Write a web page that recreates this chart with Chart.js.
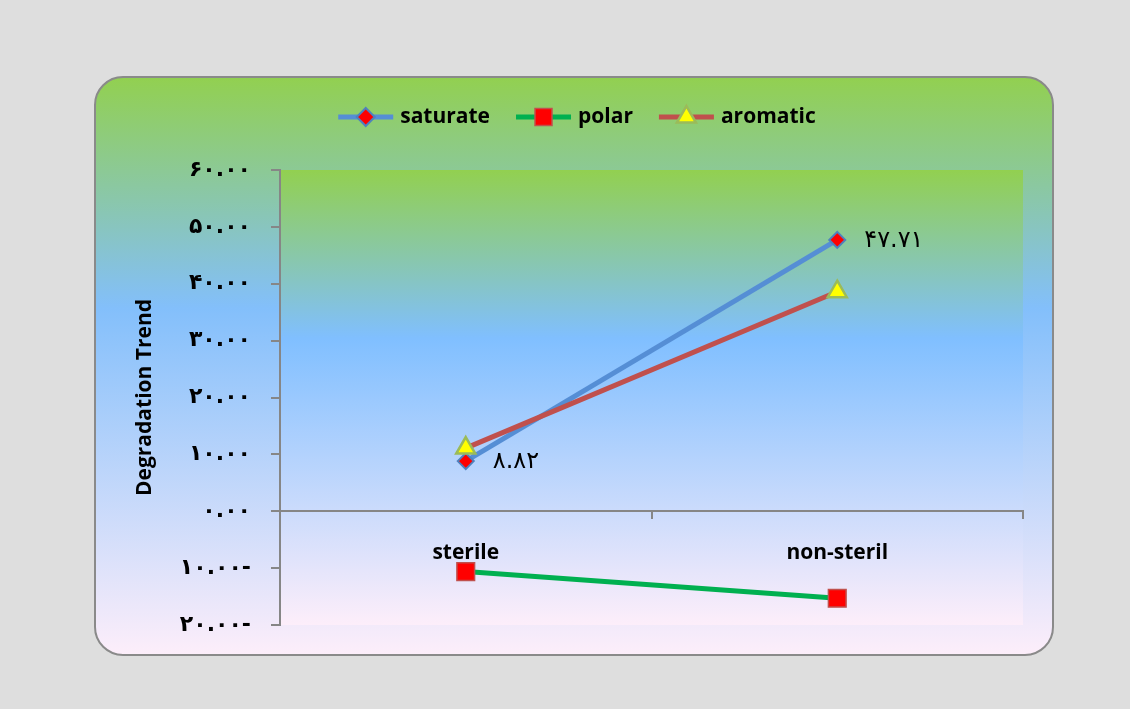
<!DOCTYPE html>
<html>
<head>
<meta charset="utf-8">
<script src="https://cdn.jsdelivr.net/npm/chart.js@4.4.1/dist/chart.umd.min.js"></script>
<style>
html,body{margin:0;padding:0;background:#dedede;}
#wrap{width:1130px;height:709px;position:relative;}
</style>
</head>
<body>
<div id="wrap"><canvas id="c" width="1130" height="709"></canvas></div>
<script>
const categories = ["sterile", "non-steril"];
const saturate = [8.82, 47.71];
const polar = [-10.6, -15.3];
const aromatic = [11.1, 38.6];
const seriesNames = ["saturate", "polar", "aromatic"];
const yTicks = { min: -20, max: 60, step: 10 };
const axisTitle = "Degradation Trend";

const FA = "۰۱۲۳۴۵۶۷۸۹";
function toFa(v) {
  const neg = v < 0;
  const s = Math.abs(v).toFixed(2).replace(/[0-9]/g, d => FA[+d]);
  return "\u200E" + s + (neg ? "-" : "");
}

const bgPlugin = {
  id: "bg",
  beforeDraw(chart) {
    const ctx = chart.ctx;
    ctx.save();
    ctx.fillStyle = "#dedede";
    ctx.fillRect(0, 0, chart.width, chart.height);
    const x0 = 95, y0 = 77, x1 = 1053, y1 = 655, r = 28;
    const g = ctx.createLinearGradient(0, y0, 0, y1);
    g.addColorStop(0, "#92d050");
    g.addColorStop(0.4, "#83bffb");
    g.addColorStop(1, "#fdeefa");
    ctx.beginPath();
    ctx.moveTo(x0 + r, y0);
    ctx.lineTo(x1 - r, y0);
    ctx.arcTo(x1, y0, x1, y0 + r, r);
    ctx.lineTo(x1, y1 - r);
    ctx.arcTo(x1, y1, x1 - r, y1, r);
    ctx.lineTo(x0 + r, y1);
    ctx.arcTo(x0, y1, x0, y1 - r, r);
    ctx.lineTo(x0, y0 + r);
    ctx.arcTo(x0, y0, x0 + r, y0, r);
    ctx.closePath();
    ctx.fillStyle = g;
    ctx.fill();
    ctx.lineWidth = 2;
    ctx.strokeStyle = "#8a8a8a";
    ctx.stroke();
    const a = chart.chartArea;
    const g2 = ctx.createLinearGradient(0, a.top, 0, a.bottom);
    g2.addColorStop(0, "#92d050");
    g2.addColorStop(0.37, "#80bfff");
    g2.addColorStop(1, "#fdeefa");
    ctx.fillStyle = g2;
    ctx.fillRect(a.left, a.top, a.right - a.left, a.bottom - a.top);
    ctx.restore();
  }
};

const labelPlugin = {
  id: "labels",
  afterDatasetsDraw(chart) {
    const ctx = chart.ctx;
    ctx.save();
    const meta = chart.getDatasetMeta(0);
    ctx.font = "24px 'DejaVu Sans'";
    ctx.fillStyle = "#000";
    ctx.textAlign = "left";
    ctx.textBaseline = "middle";
    meta.data.forEach((p, i) => {
      ctx.fillText(toFa(saturate[i]), p.x + 27, p.y + 1);
    });
    ctx.restore();
  }
};

const legendPlugin = {
  id: "customLegend",
  afterDraw(chart) {
    const ctx = chart.ctx;
    ctx.save();
    ctx.font = "bold 21px 'Open Sans'";
    ctx.textBaseline = "middle";
    const lineW = 55, gap = 7, itemGap = 26, y = 117;
    const ds = chart.data.datasets;
    let total = 0;
    const widths = ds.map(d => ctx.measureText(d.label).width);
    widths.forEach((w, i) => { total += lineW + gap + w + (i < ds.length - 1 ? itemGap : 0); });
    let x = 577 - total / 2;
    ds.forEach((d, i) => {
      ctx.strokeStyle = d.borderColor;
      ctx.lineWidth = d.borderWidth;
      ctx.beginPath();
      ctx.moveTo(x, y); ctx.lineTo(x + lineW, y); ctx.stroke();
      ctx.fillStyle = d.pointBackgroundColor;
      ctx.strokeStyle = d.pointBorderColor;
      ctx.lineWidth = d.pointBorderWidth;
      Chart.helpers.drawPoint(ctx, { pointStyle: d.pointStyle, rotation: 0, radius: d.legendRadius, borderWidth: d.pointBorderWidth }, x + lineW / 2, y);
      ctx.fillStyle = "#000";
      ctx.textAlign = "left";
      ctx.fillText(d.label, x + lineW + gap, y);
      x += lineW + gap + widths[i] + itemGap;
    });
    ctx.restore();
  }
};

new Chart(document.getElementById("c"), {
  type: "line",
  data: {
    labels: categories,
    datasets: [
      { label: seriesNames[0], data: saturate, borderColor: "#558ed5", borderWidth: 5,
        pointStyle: "rectRot", pointRadius: 8, legendRadius: 9, pointBackgroundColor: "#ff0000",
        pointBorderColor: "#4f81bd", pointBorderWidth: 2, order: 2 },
      { label: seriesNames[1], data: polar, borderColor: "#00b050", borderWidth: 5,
        pointStyle: "rect", pointRadius: 12.5, legendRadius: 12, pointBackgroundColor: "#ff0000",
        pointBorderColor: "#c0504d", pointBorderWidth: 1.5, order: 1 },
      { label: seriesNames[2], data: aromatic, borderColor: "#c0504d", borderWidth: 5,
        pointStyle: "triangle", pointRadius: 11, legendRadius: 11, pointBackgroundColor: "#ffff00",
        pointBorderColor: "#9bbb59", pointBorderWidth: 2.5, order: 0 }
    ]
  },
  options: {
    responsive: false,
    animation: false,
    devicePixelRatio: 1,
    layout: { padding: { left: 128, right: 107, top: 170, bottom: 84 } },
    elements: { line: { tension: 0 } },
    plugins: { legend: { display: false }, tooltip: { enabled: false } },
    scales: {
      x: {
        type: "category",
        position: { y: 0 },
        offset: true,
        grid: { drawOnChartArea: false, drawTicks: true, tickLength: 7, color: "#868686", lineWidth: 2, offset: true },
        border: { display: true, color: "#868686", width: 2 },
        ticks: { color: "#000", font: { family: "Open Sans", weight: "bold", size: 21 }, padding: 22, maxRotation: 0 }
      },
      y: {
        min: yTicks.min, max: yTicks.max,
        grid: { drawOnChartArea: false, drawTicks: true, tickLength: 9, color: "#868686", lineWidth: 2 },
        border: { display: true, color: "#868686", width: 2 },
        ticks: { stepSize: yTicks.step, color: "#000", padding: 20,
          font: { family: "DejaVu Sans", weight: "bold", size: 22 },
          callback: v => toFa(v) },
        title: { display: true, text: axisTitle, color: "#000",
          font: { family: "Open Sans", weight: "bold", size: 21 }, padding: { top: 4, bottom: 4 } },
        afterFit(scale) { scale.width = 152; }
      }
    }
  },
  plugins: [bgPlugin, labelPlugin, legendPlugin]
});
</script>
</body>
</html>
